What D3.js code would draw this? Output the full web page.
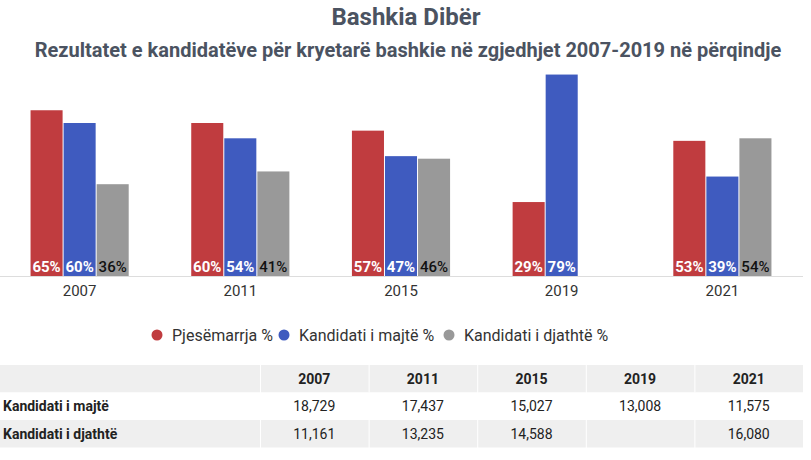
<!DOCTYPE html>
<html>
<head>
<meta charset="utf-8">
<script src="https://cdn.jsdelivr.net/npm/d3@7"></script>
<style>
  body { margin: 0; background: #fff; }
  svg { display: block; font-family: Roboto, "Noto Sans", sans-serif; }
</style>
</head>
<body>
<svg width="811" height="460"></svg>
<script>
// data
var years = ["2007", "2011", "2015", "2019", "2021"];
var pjesemarrja = [65, 60, 57, 29, 53];
var majte = [60, 54, 47, 79, 39];
var djathte = [36, 41, 46, null, 54];
var seriesNames = ["Pjesëmarrja %", "Kandidati i majtë %", "Kandidati i djathtë %"];
var rowNames = ["Kandidati i majtë", "Kandidati i djathtë"];
var votesMajte = [18729, 17437, 15027, 13008, 11575];
var votesDjathte = [11161, 13235, 14588, null, 16080];

var colors = ["#c03c3f", "#3f5bbf", "#999999"];
var labelColors = ["#fff", "#fff", "#111"];

var svg = d3.select("svg"),
    width = +svg.attr("width");

var series = [pjesemarrja, majte, djathte];

// titles
svg.append("text")
    .attr("x", 406).attr("y", 25)
    .attr("text-anchor", "middle")
    .style("font-size", "24px").style("font-weight", "700")
    .style("fill", "#4b5361")
    .text("Bashkia Dibër");

svg.append("text")
    .attr("x", 408).attr("y", 57)
    .attr("text-anchor", "middle")
    .style("font-size", "20px").style("font-weight", "700")
    .style("fill", "#4b5361")
    .text("Rezultatet e kandidatëve për kryetarë bashkie në zgjedhjet 2007-2019 në përqindje");

// scales
var x0 = d3.scaleBand()
    .domain(years)
    .range([0, 802])
    .paddingInner(0.383)
    .paddingOuter(0.187);

var x1 = d3.scaleBand()
    .domain([0, 1, 2])
    .range([0, x0.bandwidth()]);

var y = d3.scaleLinear()
    .domain([0, 100])
    .range([276, 21]);

var groups = svg.append("g").selectAll("g")
  .data(years)
  .enter().append("g")
    .attr("transform", function(d) { return "translate(" + x0(d) + ",0)"; });

var cells = groups.selectAll("g")
  .data(function(d, i) {
    return series.map(function(s, k) { return {k: k, v: s[i]}; })
      .filter(function(c) { return c.v != null; });
  })
  .enter().append("g");

cells.append("rect")
    .attr("x", function(d) { return x1(d.k) + 0.5; })
    .attr("y", function(d) { return y(d.v); })
    .attr("width", x1.bandwidth() - 1)
    .attr("height", function(d) { return y(0) - y(d.v); })
    .style("fill", function(d) { return colors[d.k]; });

cells.append("text")
    .attr("x", function(d) { return x1(d.k) + x1.bandwidth() / 2; })
    .attr("y", y(0) - 4)
    .attr("text-anchor", "middle")
    .style("font-size", "15px")
    .style("font-weight", function(d) { return d.k < 2 ? "700" : "500"; })
    .style("fill", function(d) { return labelColors[d.k]; })
    .text(function(d) { return d.v + "%"; });

// axis
var axis = svg.append("g")
    .attr("transform", "translate(0," + y(0) + ")")
    .call(d3.axisBottom(x0).tickSize(0).tickPadding(9));
axis.select(".domain").attr("d", "M0,0.5H803").style("stroke", "#dddddd");
axis.selectAll("text")
    .style("font-size", "15px")
    .style("font-family", "Roboto, sans-serif")
    .style("fill", "#333");

// legend
var legendX = [157, 284, 449];
var legend = svg.append("g").selectAll("g")
  .data(seriesNames)
  .enter().append("g")
    .attr("transform", function(d, i) { return "translate(" + legendX[i] + ",335)"; });
legend.append("circle")
    .attr("r", 5.5)
    .style("fill", function(d, i) { return colors[i]; });
legend.append("text")
    .attr("x", 15).attr("y", 5.5)
    .style("font-size", "16px")
    .style("fill", "#333")
    .text(function(d) { return d; });

// table
var fmt = d3.format(",");
var colX = d3.scaleBand().domain(years).range([260, 803]);
var tableTop = 365, rowH = 27.5;
var table = svg.append("g");

var rows = [{label: "", vals: years, bg: "#efefef", head: true},
            {label: rowNames[0], vals: votesMajte, bg: "#ffffff"},
            {label: rowNames[1], vals: votesDjathte, bg: "#efefef"}];

rows.forEach(function(r, ri) {
  var ty = tableTop + ri * rowH;
  var g = table.append("g").attr("transform", "translate(0," + ty + ")");
  g.append("rect").attr("x", 0).attr("width", 260).attr("height", rowH).style("fill", r.bg);
  g.selectAll("rect.c")
    .data(years)
    .enter().append("rect")
      .attr("class", "c")
      .attr("x", function(d) { return colX(d) + 1; })
      .attr("width", colX.bandwidth() - 1)
      .attr("height", rowH)
      .style("fill", r.bg);
  g.append("text")
      .attr("x", 3).attr("y", rowH / 2 + 5)
      .style("font-size", "14px").style("font-weight", "700")
      .style("fill", "#222")
      .text(r.label);
  g.selectAll("text.v")
    .data(r.vals)
    .enter().append("text")
      .attr("class", "v")
      .attr("x", function(d, i) { return colX(years[i]) + colX.bandwidth() / 2; })
      .attr("y", rowH / 2 + 5)
      .attr("text-anchor", "middle")
      .style("font-size", "14px")
      .style("font-weight", r.head ? "700" : "400")
      .style("fill", "#222")
      .text(function(d) { return d == null ? "" : (r.head ? d : fmt(d)); });
});
</script>
</body>
</html>
